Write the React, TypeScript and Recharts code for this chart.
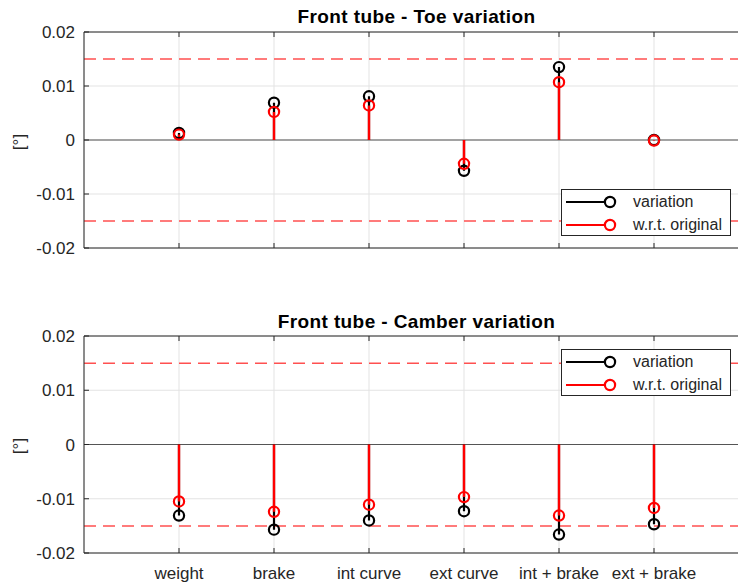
import React from 'react';
import { ComposedChart, XAxis, YAxis, CartesianGrid, Line, Scatter, ReferenceLine } from 'recharts';

const categories = ['weight', 'brake', 'int curve', 'ext curve', 'int + brake', 'ext + brake'];
const categoryPositions = [1, 2, 3, 4, 5, 6];
const yTicks = [-0.02, -0.01, 0, 0.01, 0.02];
const limitValue = 0.015;

const toeVariation = [0.0013, 0.0069, 0.0081, -0.0057, 0.0135, 0.0];
const toeWrtOriginal = [0.001, 0.0052, 0.0064, -0.0044, 0.0107, -0.0001];
const camberVariation = [-0.0131, -0.0157, -0.014, -0.0123, -0.0166, -0.0147];
const camberWrtOriginal = [-0.0105, -0.0124, -0.0111, -0.0097, -0.0131, -0.0117];

const FONT = '"Liberation Sans", Arial, Helvetica, sans-serif';
const AXIS_COLOR = '#262626';

const stemData = (values: number[]) =>
  values.flatMap((v, i) => [
    { x: categoryPositions[i], y: 0 },
    { x: categoryPositions[i], y: v },
    { x: categoryPositions[i], y: null },
  ]);

const pointData = (values: number[]) => values.map((v, i) => ({ x: categoryPositions[i], y: v }));

const circleShape = (color: string) => (props: any) => (
  <circle cx={props.cx} cy={props.cy} r={5.1} fill="none" stroke={color} strokeWidth={2.2} />
);

type PanelProps = {
  variation: number[];
  wrt: number[];
  height: number;
  marginTop: number;
  bottomAxisHeight: number;
  showLabels: boolean;
};

const Panel = ({ variation, wrt, height, marginTop, bottomAxisHeight, showLabels }: PanelProps) => (
  <ComposedChart
    width={760}
    height={height}
    margin={{ top: marginTop, right: 11, bottom: 0, left: 24 }}
  >
    <CartesianGrid stroke="#e3e3e3" strokeWidth={1} />
    <XAxis
      type="number"
      dataKey="x"
      domain={[0, 7]}
      ticks={categoryPositions}
      allowDataOverflow
      height={bottomAxisHeight}
      tickSize={-5}
      tickMargin={19}
      stroke={AXIS_COLOR}
      tick={{ fill: AXIS_COLOR, fontSize: 17, fontFamily: FONT }}
      tickFormatter={(v: number) => (showLabels ? categories[v - 1] ?? '' : '')}
      interval={0}
    />
    <XAxis
      xAxisId="top"
      orientation="top"
      type="number"
      dataKey="x"
      domain={[0, 7]}
      ticks={categoryPositions}
      allowDataOverflow
      height={1}
      tickSize={-5}
      stroke={AXIS_COLOR}
      tickFormatter={() => ''}
    />
    <YAxis
      type="number"
      domain={[-0.02, 0.02]}
      ticks={yTicks}
      width={60}
      tickSize={-5}
      tickMargin={14}
      stroke={AXIS_COLOR}
      tick={{ fill: AXIS_COLOR, fontSize: 17, fontFamily: FONT }}
      interval={0}
    />
    <ReferenceLine y={0} stroke="#555555" strokeWidth={1.2} />
    <ReferenceLine y={limitValue} stroke="#ff5050" strokeWidth={1.5} strokeDasharray="12 7" />
    <ReferenceLine y={-limitValue} stroke="#ff5050" strokeWidth={1.5} strokeDasharray="12 7" />
    <Line
      data={stemData(variation)}
      dataKey="y"
      stroke="#000000"
      strokeWidth={2.2}
      dot={false}
      activeDot={false}
      connectNulls={false}
      isAnimationActive={false}
    />
    <Line
      data={stemData(wrt)}
      dataKey="y"
      stroke="#ff0000"
      strokeWidth={2.4}
      dot={false}
      activeDot={false}
      connectNulls={false}
      isAnimationActive={false}
    />
    <Scatter data={pointData(variation)} dataKey="y" shape={circleShape('#000000')} isAnimationActive={false} />
    <Scatter data={pointData(wrt)} dataKey="y" shape={circleShape('#ff0000')} isAnimationActive={false} />
  </ComposedChart>
);

const LegendIcon = ({ color }: { color: string }) => (
  <svg width={56} height={14} style={{ display: 'block' }}>
    <line x1={0} y1={7} x2={44} y2={7} stroke={color} strokeWidth={2.2} />
    <circle cx={44} cy={7} r={5.1} fill="#fff" stroke={color} strokeWidth={2.2} />
  </svg>
);

const LegendBox = ({ top }: { top: number }) => (
  <div
    style={{
      position: 'absolute',
      left: 561,
      top,
      width: 170,
      height: 47,
      border: `1px solid ${AXIS_COLOR}`,
      background: '#fff',
      fontFamily: FONT,
      fontSize: 16,
      color: AXIS_COLOR,
      boxSizing: 'border-box',
    }}
  >
    {[
      { label: 'variation', color: '#000000' },
      { label: 'w.r.t. original', color: '#ff0000' },
    ].map((item, i) => (
      <div
        key={item.label}
        style={{
          position: 'absolute',
          left: 4,
          top: 4 + i * 23,
          height: 16,
          display: 'flex',
          alignItems: 'center',
          whiteSpace: 'nowrap',
          lineHeight: '16px',
        }}
      >
        <LegendIcon color={item.color} />
        <span style={{ marginLeft: 11 }}>{item.label}</span>
      </div>
    ))}
  </div>
);

export default function App() {
  return (
    <div
      style={{
        position: 'absolute',
        left: 0,
        top: 0,
        width: 738,
        height: 584,
        overflow: 'hidden',
        background: '#ffffff',
      }}
    >
      <div style={{ position: 'absolute', left: 0, top: 0 }}>
        <Panel
          variation={toeVariation}
          wrt={toeWrtOriginal}
          height={260}
          marginTop={31}
          bottomAxisHeight={12}
          showLabels={false}
        />
      </div>
      <div style={{ position: 'absolute', left: 0, top: 300 }}>
        <Panel
          variation={camberVariation}
          wrt={camberWrtOriginal}
          height={284}
          marginTop={35}
          bottomAxisHeight={31}
          showLabels={true}
        />
      </div>
      <svg
        width={738}
        height={584}
        style={{ position: 'absolute', left: 0, top: 0, pointerEvents: 'none' }}
      >
        <text x={416.5} y={22.7} textAnchor="middle" fontFamily={FONT} fontWeight="bold" fontSize={19} letterSpacing={0.4} fill="#000">
          Front tube - Toe variation
        </text>
        <text x={416.5} y={328.3} textAnchor="middle" fontFamily={FONT} fontWeight="bold" fontSize={19} letterSpacing={0.4} fill="#000">
          Front tube - Camber variation
        </text>
        <text
          x={0}
          y={0}
          transform="translate(25,142) rotate(-90)"
          textAnchor="middle"
          fontFamily={FONT}
          fontSize={17}
          fill={AXIS_COLOR}
        >
          [°]
        </text>
        <text
          x={0}
          y={0}
          transform="translate(25,446) rotate(-90)"
          textAnchor="middle"
          fontFamily={FONT}
          fontSize={17}
          fill={AXIS_COLOR}
        >
          [°]
        </text>
      </svg>
      <LegendBox top={189} />
      <LegendBox top={349} />
    </div>
  );
}
